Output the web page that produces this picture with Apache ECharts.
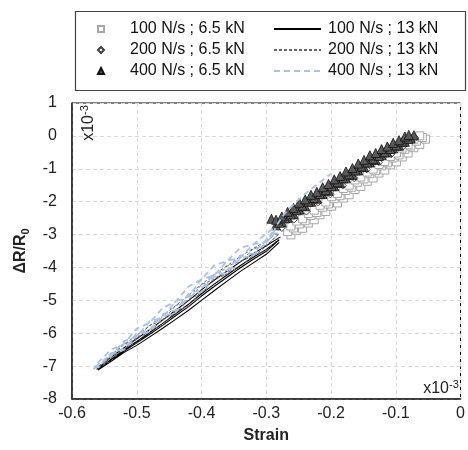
<!DOCTYPE html>
<html>
<head>
<meta charset="utf-8">
<script src="https://cdn.jsdelivr.net/npm/echarts@6/dist/echarts.min.js"></script>
<style>
html,body{margin:0;padding:0;background:#fff;}
#chart{width:468px;height:450px;}
</style>
</head>
<body>
<div id="chart"></div>
<script>
// ---- data (strain x10^-3, dR/R0 x10^-3) ----
const xTicks = [-0.6, -0.5, -0.4, -0.3, -0.2, -0.1, 0];
const yTicks = [-8, -7, -6, -5, -4, -3, -2, -1, 0, 1];
const seriesNames = ['100 N/s ; 6.5 kN', '200 N/s ; 6.5 kN', '400 N/s ; 6.5 kN',
                     '100 N/s ; 13 kN', '200 N/s ; 13 kN', '400 N/s ; 13 kN'];

// 100 N/s ; 6.5 kN (open squares)
const sq65_100 = [
  [-0.262,-3.01],[-0.253,-2.87],[-0.244,-2.81],[-0.235,-2.65],[-0.226,-2.55],[-0.217,-2.40],[-0.208,-2.30],[-0.199,-2.14],
  [-0.190,-2.04],[-0.181,-1.89],[-0.172,-1.79],[-0.163,-1.63],[-0.154,-1.54],[-0.144,-1.38],[-0.135,-1.28],[-0.126,-1.13],
  [-0.117,-1.04],[-0.108,-0.88],[-0.099,-0.79],[-0.090,-0.64],[-0.081,-0.52],[-0.072,-0.36],[-0.063,-0.26],[-0.054,-0.10],
  [-0.267,-2.91],[-0.258,-2.80],[-0.249,-2.68],[-0.240,-2.58],[-0.231,-2.42],[-0.222,-2.33],[-0.213,-2.17],[-0.204,-2.07],
  [-0.195,-1.91],[-0.186,-1.82],[-0.177,-1.66],[-0.168,-1.56],[-0.159,-1.41],[-0.149,-1.31],[-0.140,-1.15],[-0.131,-1.06],
  [-0.122,-0.91],[-0.113,-0.82],[-0.104,-0.67],[-0.095,-0.58],[-0.086,-0.41],[-0.077,-0.31],[-0.068,-0.16],[-0.059,-0.05],
  [-0.262,-2.74],[-0.253,-2.59],[-0.244,-2.52],[-0.235,-2.36],[-0.226,-2.26],[-0.217,-2.11],[-0.208,-2.01],[-0.199,-1.85],
  [-0.190,-1.75],[-0.181,-1.60],[-0.172,-1.50],[-0.163,-1.34],[-0.154,-1.25],[-0.144,-1.10],[-0.135,-1.01],[-0.126,-0.87],
  [-0.117,-0.78],[-0.108,-0.63],[-0.099,-0.52],[-0.090,-0.37],[-0.081,-0.27],[-0.072,-0.10],[-0.063,0.00]
];
// 200 N/s ; 6.5 kN (open diamonds)
const di65_200 = [
  [-0.276,-2.80],[-0.257,-2.54],[-0.238,-2.30],[-0.220,-2.02],[-0.201,-1.78],[-0.182,-1.51],
  [-0.164,-1.29],[-0.145,-1.02],[-0.126,-0.80],[-0.107,-0.55],[-0.089,-0.32],[-0.070,-0.06]
];
// 400 N/s ; 6.5 kN (filled triangles)
const tr65_400 = [
  [-0.285,-2.72],[-0.276,-2.62],[-0.267,-2.49],[-0.258,-2.38],[-0.249,-2.24],[-0.240,-2.14],[-0.231,-2.00],[-0.222,-1.91],
  [-0.213,-1.77],[-0.204,-1.67],[-0.195,-1.53],[-0.186,-1.43],[-0.177,-1.29],[-0.167,-1.19],[-0.158,-1.05],[-0.149,-0.95],
  [-0.140,-0.81],[-0.131,-0.73],[-0.122,-0.59],[-0.113,-0.50],[-0.104,-0.38],[-0.095,-0.30],[-0.086,-0.18],[-0.077,-0.08],
  [-0.280,-2.64],[-0.271,-2.51],[-0.262,-2.39],[-0.253,-2.26],[-0.244,-2.13],[-0.235,-2.00],[-0.226,-1.89],[-0.217,-1.77],
  [-0.208,-1.65],[-0.199,-1.53],[-0.190,-1.41],[-0.181,-1.29],[-0.172,-1.17],[-0.162,-1.05],[-0.153,-0.93],[-0.144,-0.81],
  [-0.135,-0.70],[-0.126,-0.61],[-0.117,-0.50],[-0.108,-0.40],[-0.099,-0.29],[-0.090,-0.18],[-0.081,-0.09],[-0.072,0.02],
  [-0.292,-2.52],[-0.285,-2.55],[-0.276,-2.45],[-0.267,-2.31],[-0.258,-2.19],[-0.249,-2.03],[-0.240,-1.93],[-0.231,-1.79],
  [-0.222,-1.70],[-0.213,-1.56],[-0.204,-1.46],[-0.195,-1.32],[-0.186,-1.22],[-0.177,-1.08],[-0.167,-0.98],[-0.158,-0.84],
  [-0.149,-0.73],[-0.140,-0.59],[-0.131,-0.52],[-0.122,-0.40],[-0.113,-0.32],[-0.104,-0.21],[-0.095,-0.13],[-0.086,-0.02],
  [-0.080,0.03]
];
// 100 N/s ; 13 kN (solid black)
const ln13_100 = [
  [-0.280,-3.24],[-0.300,-3.60],[-0.320,-3.86],[-0.340,-4.12],[-0.360,-4.41],[-0.380,-4.70],[-0.400,-5.00],[-0.420,-5.30],
  [-0.440,-5.58],[-0.460,-5.85],[-0.480,-6.11],[-0.500,-6.37],[-0.520,-6.59],[-0.540,-6.86],[-0.560,-7.12],
  [-0.540,-6.80],[-0.520,-6.51],[-0.500,-6.25],[-0.480,-5.98],[-0.460,-5.70],[-0.440,-5.41],[-0.420,-5.12],
  [-0.400,-4.80],[-0.380,-4.50],[-0.360,-4.22],[-0.340,-3.94],[-0.320,-3.69],[-0.300,-3.45],[-0.280,-3.16],
  [-0.300,-3.51],[-0.320,-3.75],[-0.340,-4.01],[-0.360,-4.29],[-0.380,-4.57],[-0.400,-4.87],[-0.420,-5.19],
  [-0.440,-5.47],[-0.460,-5.76],[-0.480,-6.03],[-0.500,-6.29],[-0.520,-6.55],[-0.540,-6.83],[-0.562,-7.10],
  [-0.540,-6.73],[-0.520,-6.45],[-0.500,-6.17],[-0.480,-5.89],[-0.460,-5.60],[-0.440,-5.30],[-0.420,-5.01],
  [-0.400,-4.68],[-0.380,-4.38],[-0.360,-4.10],[-0.340,-3.83],[-0.320,-3.58],[-0.300,-3.34],[-0.278,-3.07]
];
// 200 N/s ; 13 kN (short-dashed dark grey)
const ln13_200 = [
  [-0.280,-3.11],[-0.300,-3.50],[-0.320,-3.62],[-0.340,-3.99],[-0.360,-4.15],[-0.380,-4.56],[-0.400,-4.72],[-0.420,-5.18],
  [-0.440,-5.33],[-0.460,-5.76],[-0.480,-5.90],[-0.500,-6.30],[-0.520,-6.45],[-0.540,-6.85],[-0.560,-7.06],
  [-0.540,-6.73],[-0.520,-6.34],[-0.500,-6.17],[-0.480,-5.76],[-0.460,-5.61],[-0.440,-5.16],[-0.420,-5.00],
  [-0.400,-4.52],[-0.380,-4.36],[-0.360,-3.95],[-0.340,-3.82],[-0.320,-3.43],[-0.300,-3.33],[-0.280,-2.97],
  [-0.300,-3.35],[-0.320,-3.66],[-0.340,-3.81],[-0.360,-4.20],[-0.380,-4.36],[-0.400,-4.78],[-0.420,-4.98],
  [-0.440,-5.40],[-0.460,-5.57],[-0.480,-5.98],[-0.500,-6.13],[-0.520,-6.52],[-0.540,-6.70],[-0.560,-7.03],
  [-0.540,-6.66],[-0.520,-6.35],[-0.500,-6.06],[-0.480,-5.77],[-0.460,-5.47],[-0.440,-5.16],[-0.420,-4.85],
  [-0.400,-4.51],[-0.380,-4.21],[-0.360,-3.94],[-0.340,-3.67],[-0.320,-3.42],[-0.300,-3.20],[-0.282,-2.95]
];
// 400 N/s ; 13 kN (long-dashed light blue)
const ln13_400 = [
  [-0.290,-2.82],[-0.300,-2.97],[-0.320,-3.30],[-0.340,-3.40],[-0.360,-3.80],[-0.380,-3.93],[-0.400,-4.36],[-0.420,-4.58],
  [-0.440,-5.04],[-0.460,-5.23],[-0.480,-5.68],[-0.500,-5.86],[-0.520,-6.33],[-0.540,-6.50],[-0.565,-7.00],
  [-0.560,-7.05],[-0.540,-6.61],[-0.520,-6.47],[-0.500,-6.01],[-0.480,-5.90],[-0.460,-5.42],[-0.440,-5.30],[-0.420,-4.81],
  [-0.400,-4.66],[-0.380,-4.18],[-0.360,-4.08],[-0.340,-3.63],[-0.320,-3.57],[-0.300,-3.16],[-0.285,-2.95],
  [-0.290,-2.90],[-0.300,-3.24],[-0.320,-3.29],[-0.340,-3.71],[-0.360,-3.79],[-0.380,-4.24],[-0.400,-4.36],[-0.420,-4.89],
  [-0.440,-5.02],[-0.460,-5.52],[-0.480,-5.64],[-0.500,-6.11],[-0.520,-6.24],[-0.540,-6.71],[-0.568,-7.10],
  [-0.560,-6.96],[-0.540,-6.64],[-0.520,-6.51],[-0.500,-6.07],[-0.480,-5.95],[-0.460,-5.50],[-0.440,-5.36],[-0.420,-4.90],
  [-0.400,-4.73],[-0.380,-4.27],[-0.360,-4.15],[-0.340,-3.72],[-0.320,-3.63],[-0.300,-3.24],[-0.290,-3.02],
  [-0.285,-2.75],[-0.272,-2.37],[-0.255,-2.02],[-0.235,-1.68],[-0.215,-1.38],[-0.200,-1.15]
];

const FONT = '"Liberation Sans", Arial, sans-serif';
const chart = echarts.init(document.getElementById('chart'), null, {renderer: 'canvas'});

const supRich = {
  a: {fontFamily: FONT, fontSize: 16, fill: '#222', lineHeight: 18, verticalAlign: 'bottom'},
  b: {fontFamily: FONT, fontSize: 11, fill: '#222', lineHeight: 18, verticalAlign: 'top'}
};

const option = {
  backgroundColor: '#fff',
  animation: false,
  textStyle: {fontFamily: FONT},
  grid: {left: 72, top: 103, width: 391, height: 296, show: true, borderColor: '#000', borderWidth: 1, backgroundColor: 'transparent'},
  xAxis: {
    type: 'value', min: xTicks[0], max: xTicks[xTicks.length - 1], interval: 0.1,
    name: 'Strain', nameLocation: 'middle', nameGap: 29,
    nameTextStyle: {fontFamily: FONT, fontSize: 16, fontWeight: 'bold', color: '#222'},
    axisLine: {show: true, onZero: false, lineStyle: {color: '#222', width: 1.5}},
    axisTick: {show: false},
    axisLabel: {fontFamily: FONT, fontSize: 16, color: '#222', margin: 7,
      formatter: v => String(Math.round(v * 10) / 10)},
    splitLine: {show: true, lineStyle: {color: '#d9d9d9', type: [4, 3], width: 1}}
  },
  yAxis: {
    type: 'value', min: yTicks[0], max: yTicks[yTicks.length - 1], interval: 1,
    name: '{a|ΔR/R}{b|0}', nameLocation: 'middle', nameGap: 35, nameRotate: 90,
    nameTextStyle: {
      rich: {
        a: {fontFamily: FONT, fontSize: 16, fontWeight: 'bold', color: '#222', lineHeight: 22, verticalAlign: 'middle'},
        b: {fontFamily: FONT, fontSize: 11, fontWeight: 'bold', color: '#222', lineHeight: 22, verticalAlign: 'bottom', padding: [6, 0, 0, 0]}
      }
    },
    axisLine: {show: true, onZero: false, lineStyle: {color: '#222', width: 1.5}},
    axisTick: {show: false},
    axisLabel: {fontFamily: FONT, fontSize: 16, color: '#222', margin: 15},
    splitLine: {show: true, lineStyle: {color: '#d9d9d9', type: [4, 3], width: 1}}
  },
  legend: [
    {
      data: seriesNames.slice(0, 3), orient: 'vertical', left: 97, top: 21, padding: 0,
      itemWidth: 6, itemHeight: 6, itemGap: 5,
      textStyle: {fontFamily: FONT, fontSize: 16, color: '#111', lineHeight: 16, padding: [0, 0, 0, 21]}
    },
    {
      data: seriesNames.slice(3, 6), orient: 'vertical', left: 273, top: 21, padding: 0,
      itemWidth: 47, itemHeight: 6, itemGap: 5,
      itemStyle: {opacity: 0},
      textStyle: {fontFamily: FONT, fontSize: 16, color: '#111', lineHeight: 16, padding: [0, 0, 0, 2]}
    }
  ],
  graphic: [
    {type: 'rect', left: 73, top: 9, shape: {width: 390, height: 79}, style: {fill: 'none', stroke: '#444', lineWidth: 1.2}, z: 1},
    {type: 'text', x: 88, y: 123, rotation: Math.PI / 2, z: 10,
      style: {text: '{a|x10}{b|-3}', align: 'center', verticalAlign: 'middle', rich: supRich}},
    {type: 'text', x: 441, y: 388, z: 10,
      style: {text: '{a|x10}{b|-3}', align: 'center', verticalAlign: 'middle', rich: supRich}}
  ],
  series: [
    {name: seriesNames[0], type: 'scatter', data: sq65_100, symbol: 'rect', symbolSize: 8,
      itemStyle: {color: '#fff', borderColor: '#a6a6a6', borderWidth: 1, opacity: 1}},
    {name: seriesNames[1], type: 'scatter', data: di65_200, symbol: 'diamond', symbolSize: 7,
      itemStyle: {color: '#fff', borderColor: '#404040', borderWidth: 1, opacity: 1}},
    {name: seriesNames[2], type: 'scatter', data: tr65_400, symbol: 'triangle', symbolSize: 9,
      itemStyle: {color: '#5a5a5a', borderColor: '#111', borderWidth: 0.8, opacity: 1}},
    {name: seriesNames[3], type: 'line', data: ln13_100, symbol: 'none',
      itemStyle: {color: '#000'}, lineStyle: {color: '#000', width: 1.1, type: 'solid'}},
    {name: seriesNames[4], type: 'line', data: ln13_200, symbol: 'none',
      itemStyle: {color: '#666'}, lineStyle: {color: '#666', width: 1, type: [3, 2]}},
    {name: seriesNames[5], type: 'line', data: ln13_400, symbol: 'none',
      itemStyle: {color: '#a9c2e6'}, lineStyle: {color: '#a9c2e6', width: 1.8, type: [6, 4]}}
  ]
};
chart.setOption(option);
</script>
</body>
</html>
